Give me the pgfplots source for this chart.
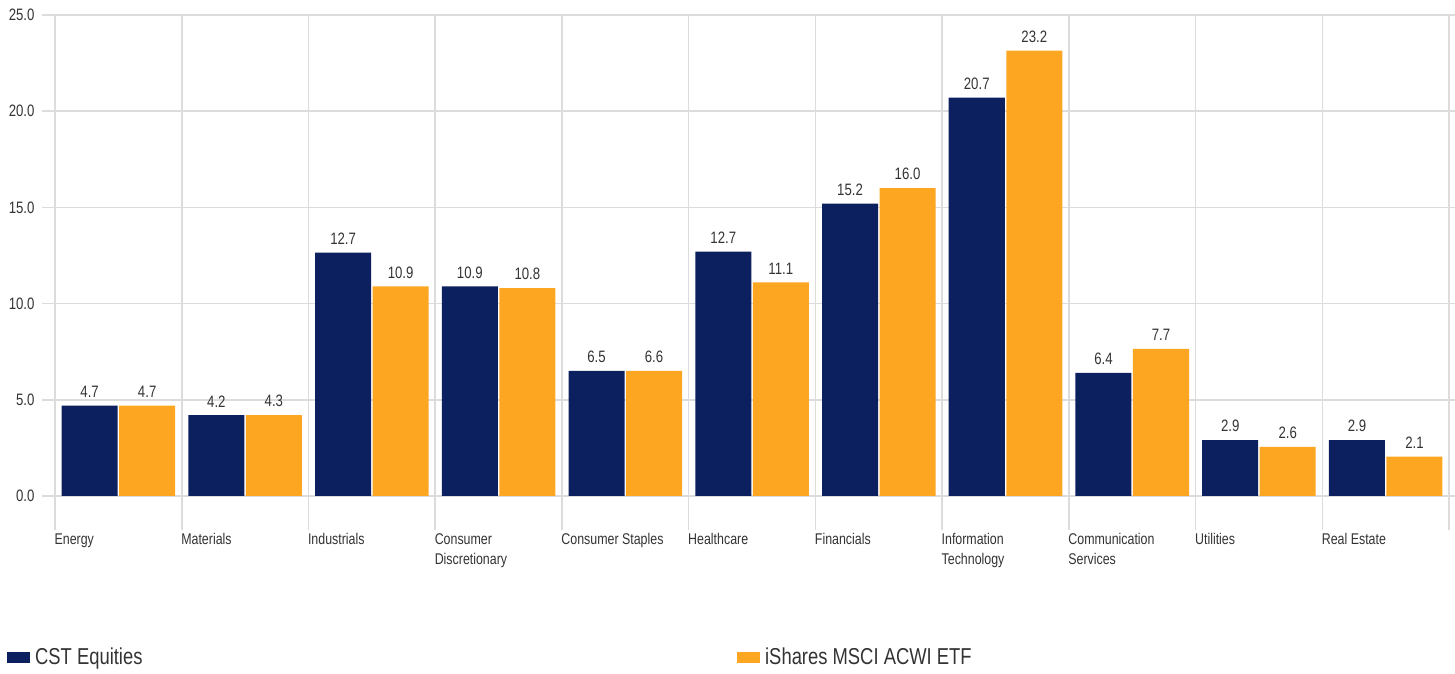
\documentclass[border=0pt]{standalone}
\usepackage{pgfplots}
\usepackage{pgfplotstable}
\pgfplotsset{compat=1.18}
\usepackage{fontspec}
\setmainfont{Liberation Sans}[FakeStretch=0.8]
\definecolor{navy}{HTML}{0C1F5E}
\definecolor{orng}{HTML}{FCA622}
\definecolor{gridc}{HTML}{DCDCDC}
\definecolor{txt}{HTML}{333333}

\pgfplotstableread{
x cst cstl etf etfl
0 4.7 4.7 4.7 4.7
1 4.2 4.2 4.2 4.3
2 12.65 12.7 10.9 10.9
3 10.9 10.9 10.8 10.8
4 6.5 6.5 6.5 6.6
5 12.7 12.7 11.1 11.1
6 15.2 15.2 16.0 16.0
7 20.7 20.7 23.15 23.2
8 6.4 6.4 7.65 7.7
9 2.9 2.9 2.55 2.6
10 2.9 2.9 2.05 2.1
}\datatable

\begin{document}
\begin{tikzpicture}
\path[use as bounding box] (-42pt,-143pt) rectangle (1413pt,530pt);
\begin{axis}[
  at={(0pt,0pt)}, anchor=south west,
  scale only axis, width=1413pt, height=515pt,
  xmin=-0.603, xmax=10.547,
  ymin=-1.77, ymax=25,
  ybar=1.5pt, bar width=0.442,
  axis line style={draw=none},
  major tick length=0pt,
  /pgf/number format/assume math mode=true,
  ytick={0,5,10,15,20,25},
  yticklabel style={/pgf/number format/fixed, /pgf/number format/precision=1, /pgf/number format/fixed zerofill, font=\fontsize{16.5}{18}\selectfont, text=txt, xshift=-4pt},
  xtick={-0.5,0.5,1.5,2.5,3.5,4.5,5.5,6.5,7.5,8.5,9.5},
  xticklabels={Energy,Materials,Industrials,{Consumer\\Discretionary},Consumer Staples,Healthcare,Financials,{Information\\Technology},{Communication\\Services},Utilities,Real Estate},
  xticklabel style={anchor=north west, align=left, font=\fontsize{15.5}{20}\selectfont, text=txt, xshift=-4pt},
  extra x ticks={10.5}, extra x tick labels={},
  extra x tick style={grid=major},
  grid=major,
  major grid style={color=gridc, line width=1.5pt},
  legend columns=2,
  legend style={at={(axis description cs:-0.0248,-0.2466)}, anchor=west, draw=none, fill=none, inner sep=0pt, column sep=5pt, font=\fontsize{23}{27}\selectfont, text=txt, nodes={inner sep=0pt}},
  legend cell align=left,
  nodes near coords style={font=\fontsize{16.5}{18}\selectfont, text=txt, anchor=south, yshift=4.5pt},
]
\addplot[fill=navy, draw=none, nodes near coords, point meta=explicit symbolic,
  legend image code/.code={\fill[navy] (0pt,-5.5pt) rectangle (23pt,5.5pt);}]
  table[x=x, y=cst, meta=cstl] {\datatable};
\addlegendentry{\makebox[697pt][l]{CST Equities}}
\addplot[fill=orng, draw=none, nodes near coords, point meta=explicit symbolic,
  legend image code/.code={\fill[orng] (0pt,-5.5pt) rectangle (23pt,5.5pt);}]
  table[x=x, y=etf, meta=etfl] {\datatable};
\addlegendentry{iShares MSCI ACWI ETF}
\end{axis}
\end{tikzpicture}
\end{document}
